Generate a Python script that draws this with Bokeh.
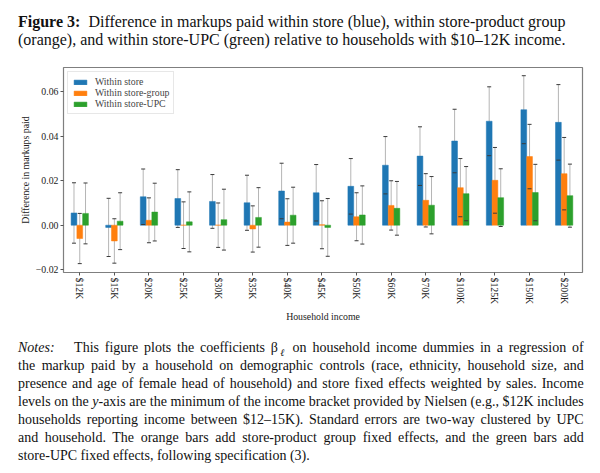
import numpy as np
from bokeh.plotting import figure
from bokeh.models import Range1d, FixedTicker, Div, Legend
from bokeh.layouts import column
from bokeh.embed import file_html
from bokeh.resources import INLINE

labels = ["$12K", "$15K", "$20K", "$25K", "$30K", "$35K", "$40K", "$45K",
          "$50K", "$60K", "$70K", "$100K", "$125K", "$150K", "$200K"]

within_store = [0.0055, -0.0010, 0.0128, 0.0120, 0.0107, 0.0101, 0.0154, 0.0146,
                0.0175, 0.0270, 0.0311, 0.0379, 0.0468, 0.0520, 0.0463]
within_store_err = [0.0136, 0.0131, 0.0125, 0.0130, 0.0121, 0.0124, 0.0125, 0.0127,
                    0.0125, 0.0129, 0.0132, 0.0143, 0.0155, 0.0153, 0.0170]
within_group = [-0.0060, -0.0071, 0.0022, 0.0000, 0.0000, -0.0017, 0.0014, 0.0002,
                0.0038, 0.0089, 0.0112, 0.0169, 0.0202, 0.0309, 0.0232]
within_group_err = [0.0113, 0.0100, 0.0101, 0.0105, 0.0100, 0.0104, 0.0105, 0.0108,
                    0.0108, 0.0111, 0.0120, 0.0131, 0.0148, 0.0145, 0.0163]
within_upc = [0.0053, 0.0018, 0.0059, 0.0015, 0.0025, 0.0035, 0.0045, -0.0010,
              0.0046, 0.0076, 0.0090, 0.0142, 0.0124, 0.0147, 0.0133]
within_upc_err = [0.0137, 0.0128, 0.0130, 0.0135, 0.0137, 0.0134, 0.0126, 0.0130,
                  0.0131, 0.0121, 0.0129, 0.0122, 0.0130, 0.0127, 0.0142]

series = [
    ("Within store", within_store, within_store_err, "#1f77b4", -1 / 6),
    ("Within store-group", within_group, within_group_err, "#ff7f0e", 0.0),
    ("Within store-UPC", within_upc, within_upc_err, "#2ca02c", 1 / 6),
]

y_ticks = [-0.02, 0.0, 0.02, 0.04, 0.06]
y_tick_labels = ["\u22120.02", "0.00", "0.02", "0.04", "0.06"]

FONT = "Liberation Serif"
TXT = "9.8px"

p = figure(width=596, height=270, output_backend="svg", toolbar_location=None,
           x_range=Range1d(-0.47, 14.53), y_range=Range1d(-0.0213, 0.0710),
           min_border_left=63, min_border_right=14, min_border_top=9,
           min_border_bottom=56, background_fill_color="white",
           border_fill_color="white")
p.outline_line_color = "#7f7f7f"
p.outline_line_width = 1.2
p.grid.visible = False

idx = np.arange(len(labels))
renderers = []
for name, vals, errs, col, off in series:
    v = np.array(vals)
    e = np.array(errs)
    x = idx + off
    p.segment(x0=x, y0=v - e, x1=x, y1=v + e, line_color="#b5b5b5", line_width=1)
    r = p.vbar(x=x, top=v, bottom=0, width=1 / 6, fill_color=col, line_color=col,
               line_width=0.5)
    renderers.append((name, [r]))
    p.scatter(x=np.concatenate([x, x]), y=np.concatenate([v - e, v + e]),
              marker="dash", size=4, line_color="#3a3a3a", line_width=1)

legend = Legend(items=renderers, location="top_left")
legend.label_text_font = FONT
legend.label_text_font_size = TXT
legend.glyph_width = 16
legend.glyph_height = 6
legend.label_height = 9
legend.label_standoff = 7
legend.spacing = 0
legend.padding = 4
legend.margin = 4
legend.border_line_color = "#d0d0d0"
legend.border_line_width = 1
legend.background_fill_alpha = 0.8
p.add_layout(legend)

p.xaxis.ticker = FixedTicker(ticks=list(range(len(labels))))
p.xaxis.major_label_overrides = {i: lab for i, lab in enumerate(labels)}
p.xaxis.major_label_orientation = "vertical"
p.xaxis.axis_label = "Household income"
p.yaxis.ticker = FixedTicker(ticks=y_ticks)
p.yaxis.major_label_overrides = {t: s for t, s in zip(y_ticks, y_tick_labels)}
p.yaxis.axis_label = "Difference in markups paid"
for ax in (p.xaxis, p.yaxis):
    ax.axis_line_color = None
    ax.major_tick_line_color = "#555555"
    ax.major_tick_out = 3
    ax.major_tick_in = 0
    ax.minor_tick_line_color = None
    ax.major_label_text_font = FONT
    ax.major_label_text_font_size = TXT
    ax.major_label_text_color = "#222222"
    ax.major_label_standoff = 2
    ax.axis_label_text_font = FONT
    ax.axis_label_text_font_size = TXT
    ax.axis_label_text_font_style = "normal"
    ax.axis_label_text_color = "#222222"
p.xaxis.axis_label_standoff = 4
p.yaxis.axis_label_standoff = 2

caption = Div(
    width=596, height=58, margin=(0, 0, 0, 0),
    text=(
        '<div style="font-family:\'Liberation Serif\',serif;font-size:16px;'
        'line-height:18px;color:#111;padding:13px 10px 0 18px;">'
        '<div style="text-align:justify;text-align-last:justify;">'
        '<b>Figure 3:</b>&nbsp; Difference in markups paid within store (blue), '
        'within store-product group</div>'
        '<div>(orange), and within store-UPC (green) relative to households with '
        '$10\u201312K income.</div></div>'
    ),
)

note_lines = [
    '<i>Notes:</i>&emsp; This figure plots the coefficients &beta;<sub style="font-size:10px;line-height:0"><i>&#8467;</i></sub> on household income dummies in a regression of',
    'the markup paid by a household on demographic controls (race, ethnicity, household size, and',
    'presence and age of female head of household) and store fixed effects weighted by sales. Income',
    'levels on the <i>y</i>-axis are the minimum of the income bracket provided by Nielsen (e.g., $12K includes',
    'households reporting income between $12\u201315K). Standard errors are two-way clustered by UPC',
    'and household. The orange bars add store-product group fixed effects, and the green bars add',
]
last_line = 'store-UPC fixed effects, following specification (3).'

notes = Div(
    width=596, height=128, margin=(11, 0, 0, 0),
    text=(
        '<div style="font-family:\'Liberation Serif\',serif;font-size:14px;'
        'line-height:18px;color:#111;padding:0 10px 0 18px;">'
        + ''.join('<div style="text-align:justify;text-align-last:justify;">%s</div>' % s
                  for s in note_lines)
        + '<div>%s</div></div>' % last_line
    ),
)

layout = column(caption, p, notes, spacing=0)
open("out.html", "w").write(file_html(layout, INLINE))
